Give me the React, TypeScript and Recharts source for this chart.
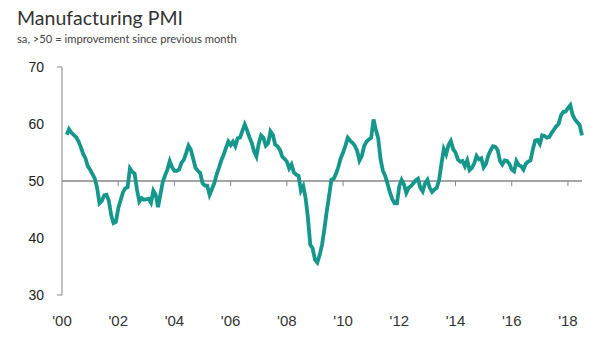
import { LineChart, Line, XAxis, YAxis, ReferenceLine } from 'recharts'

const title = 'Manufacturing PMI'
const subtitle = 'sa, >50 = improvement since previous month'

// monthly readings, first one is March 2000
const startYear = 2000
const startMonth = 3

const pmi2000 = [58.1, 59.1, 58.5, 58.1, 57.7, 57.0, 56.0, 54.8, 54.0, 52.6]
const pmi2001 = [52.0, 51.2, 50.4, 48.8, 46.1, 46.5, 47.5, 47.6, 46.5, 44.0, 42.6, 42.8]
const pmi2002 = [45.2, 46.6, 48.0, 48.7, 48.9, 52.2, 51.6, 51.3, 48.5, 46.4, 47.0, 46.7]
const pmi2003 = [46.8, 46.9, 46.2, 48.3, 47.6, 45.4, 47.6, 49.8, 51.0, 52.0, 53.5, 52.4]
const pmi2004 = [51.8, 51.8, 52.0, 53.2, 53.7, 54.9, 56.2, 55.5, 53.9, 52.3, 51.8, 51.4]
const pmi2005 = [49.6, 49.2, 49.2, 47.6, 48.6, 49.6, 51.1, 52.3, 53.6, 54.6, 55.8, 56.9]
const pmi2006 = [56.3, 56.9, 56.1, 57.5, 57.6, 58.8, 59.9, 58.9, 57.7, 56.7, 55.2, 54.3]
const pmi2007 = [56.6, 58.0, 57.6, 56.2, 56.6, 58.7, 58.1, 56.4, 56.1, 55.5, 54.3, 53.9]
const pmi2008 = [53.4, 52.2, 52.9, 51.5, 51.1, 50.9, 48.3, 49.1, 47.0, 43.5, 38.8, 38.2]
const pmi2009 = [36.2, 35.7, 37.0, 38.8, 41.5, 44.6, 47.3, 50.2, 50.4, 51.3, 52.5, 54.0]
const pmi2010 = [55.0, 56.2, 57.6, 57.1, 56.7, 56.2, 55.3, 53.6, 54.4, 56.1, 56.9, 57.3]
const pmi2011 = [57.6, 60.8, 59.0, 57.5, 53.8, 51.8, 50.9, 49.5, 48.0, 46.8, 46.1, 46.1]
const pmi2012 = [49.1, 50.2, 49.4, 47.9, 48.8, 49.1, 49.6, 50.1, 50.4, 48.8, 48.2, 49.6]
const pmi2013 = [50.2, 48.8, 48.1, 48.5, 48.8, 50.2, 53.0, 55.6, 54.7, 56.3, 57.0, 55.6]
const pmi2014 = [55.0, 53.8, 53.4, 53.5, 52.6, 53.6, 51.9, 52.3, 53.1, 54.4, 53.8, 54.0]
const pmi2015 = [52.4, 53.0, 54.5, 55.4, 56.1, 56.0, 55.4, 53.5, 52.9, 53.6, 53.5, 53.0]
const pmi2016 = [52.0, 51.7, 53.5, 52.8, 52.6, 52.0, 53.0, 53.4, 53.6, 55.5, 57.1, 57.2]
const pmi2017 = [56.5, 58.0, 57.9, 57.6, 57.7, 58.4, 59.0, 59.6, 60.0, 61.5, 62.1, 62.2]
const pmi2018 = [62.8, 63.3, 61.6, 60.8, 60.3, 59.8, 58.0]

const yTicks = [30, 40, 50, 60, 70]
const xTicks = [2000, 2002, 2004, 2006, 2008, 2010, 2012, 2014, 2016, 2018]
const xTickLabels = ["'00", "'02", "'04", "'06", "'08", "'10", "'12", "'14", "'16", "'18"]

const values = [
    ...pmi2000, ...pmi2001, ...pmi2002, ...pmi2003, ...pmi2004, ...pmi2005, ...pmi2006,
    ...pmi2007, ...pmi2008, ...pmi2009, ...pmi2010, ...pmi2011, ...pmi2012, ...pmi2013,
    ...pmi2014, ...pmi2015, ...pmi2016, ...pmi2017, ...pmi2018,
]

// x is a fractional year so the ticks land on January
const data = values.map((pmi, i) => ({
    t: startYear + (startMonth - 1 + i) / 12,
    pmi,
}))

const lastT = data[data.length - 1].t

const axisGrey = '#868686'
const teal = '#15978c'
const font = '"Liberation Sans", Arial, sans-serif'
const headFont = 'Lato, "Open Sans", sans-serif'

function YTick({ x, y, payload }: any) {
    const edge = payload.value === 70 || payload.value === 30
    return (
        <g>
            {edge && <line x1={x - 5} y1={y} x2={x} y2={y} stroke={axisGrey} strokeWidth={1} />}
            <text x={x - 18} y={y} dy={5} textAnchor="end" fill="#222" fontSize={14} fontFamily={font}>
                {payload.value}
            </text>
        </g>
    )
}

export default function App() {
    return (
        <div style={{ position: 'relative', width: 603, height: 347, margin: -8, background: '#fff' }}>
            <svg width={603} height={50} style={{ position: 'absolute', left: 0, top: 0 }}>
                <text x={17} y={25} fontSize={19.5} fill="#333" fontFamily={headFont}>
                    {title}
                </text>
                <text x={17} y={43} fontSize={11.2} fill="#444" fontFamily={headFont}>
                    {subtitle}
                </text>
            </svg>
            <div style={{ position: 'absolute', left: 0, top: 0 }}>
                <LineChart width={603} height={347} data={data} margin={{ top: 67, right: 21, bottom: 0, left: 0 }}>
                    <XAxis
                        dataKey="t"
                        type="number"
                        domain={[2000, lastT]}
                        ticks={xTicks}
                        interval={0}
                        tickFormatter={(v: number) => xTickLabels[xTicks.indexOf(v)]}
                        axisLine={false}
                        tickLine={false}
                        tickSize={0}
                        tickMargin={20}
                        height={52}
                        tick={{ fill: '#333', fontSize: 15, fontFamily: font }}
                    />
                    <YAxis
                        domain={[30, 70]}
                        ticks={yTicks}
                        interval={0}
                        width={62}
                        axisLine={{ stroke: axisGrey, strokeWidth: 1 }}
                        tickLine={false}
                        tickSize={0}
                        tickMargin={0}
                        tick={<YTick />}
                    />
                    <ReferenceLine y={50} stroke={axisGrey} strokeWidth={1.5} />
                    {xTicks.slice(1).map((t) => (
                        <ReferenceLine
                            key={t}
                            segment={[{ x: t, y: 50 }, { x: t, y: 49.1 }]}
                            stroke={axisGrey}
                            strokeWidth={1}
                        />
                    ))}
                    <Line
                        type="linear"
                        dataKey="pmi"
                        stroke={teal}
                        strokeWidth={3.8}
                        dot={false}
                        isAnimationActive={false}
                    />
                </LineChart>
            </div>
        </div>
    )
}
